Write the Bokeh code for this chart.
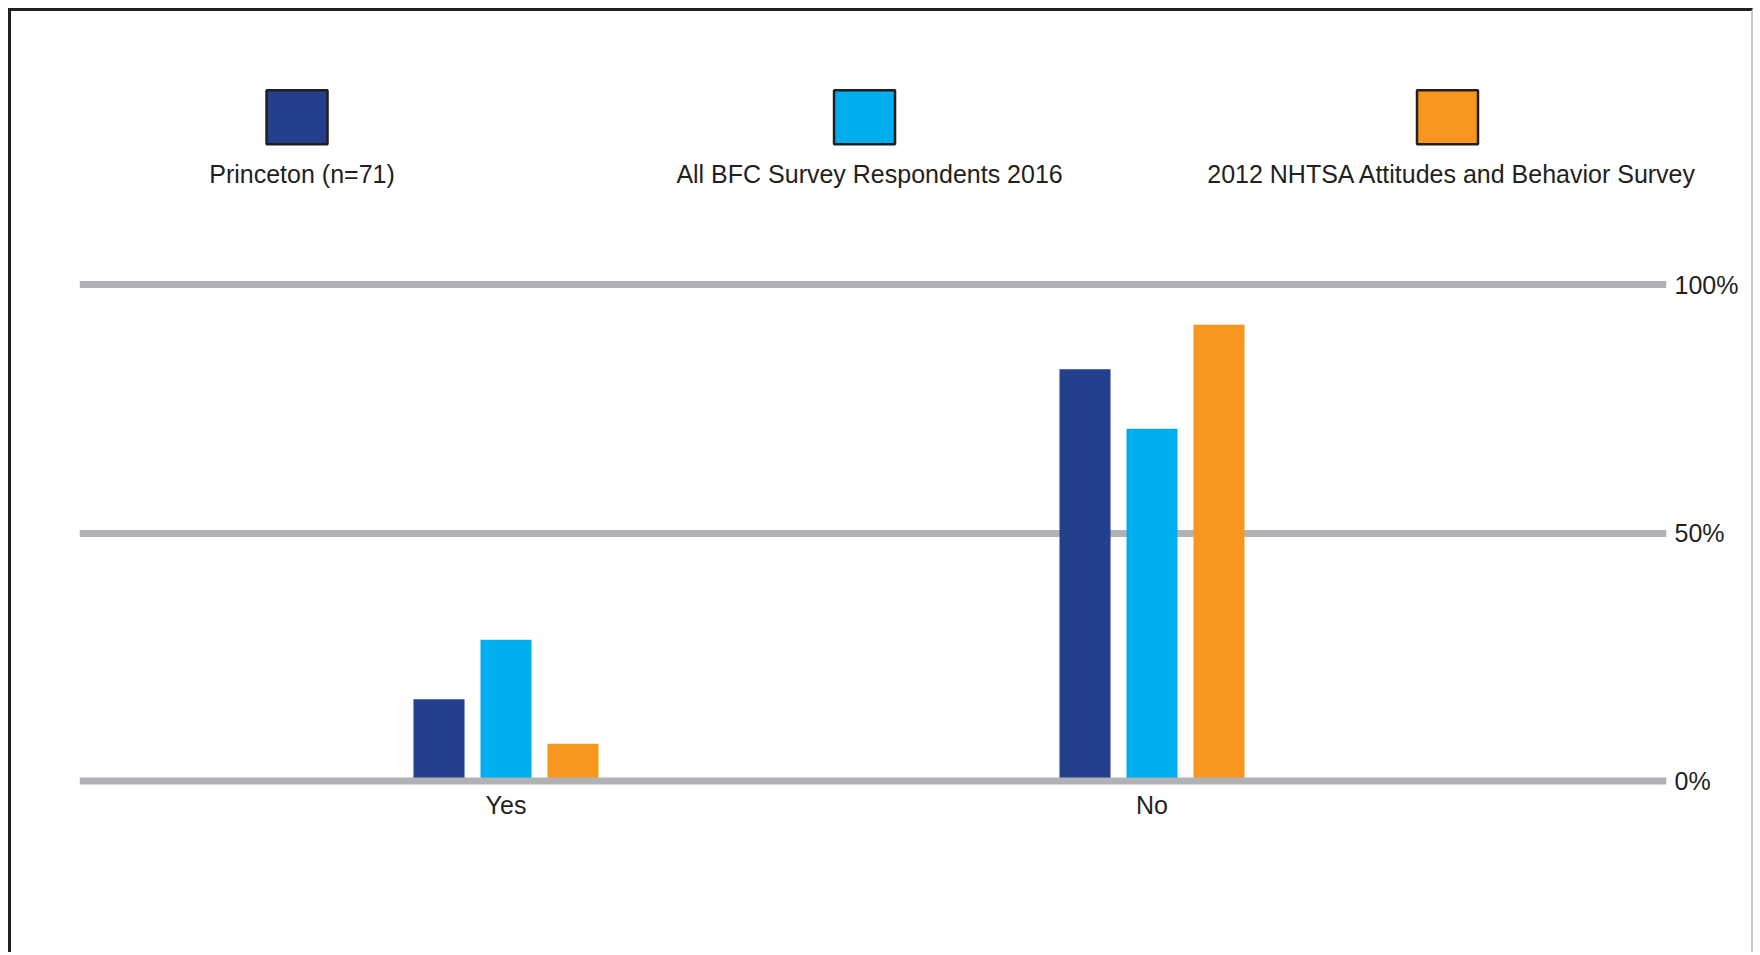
from bokeh.plotting import figure
from bokeh.models import Range1d, FixedTicker, LinearAxis, Span
from bokeh.core.properties import value
from bokeh.embed import file_html
from bokeh.resources import INLINE

# ---- data ----
categories = ["Yes", "No"]
series_names = ["Princeton (n=71)", "All BFC Survey Respondents 2016",
                "2012 NHTSA Attitudes and Behavior Survey"]
princeton = [16.5, 83.0]
bfc_all = [28.5, 71.0]
nhtsa = [7.5, 92.0]
y_ticks = [0, 50, 100]
y_tick_labels = ["0%", "50%", "100%"]

colors = ["#243F8C", "#00AEEF", "#F7971F"]
FONT = "Liberation Sans"
FS = "25px"
TXT = "#231F20"
GRID = "#B1B2B5"

p = figure(width=1745, height=944, output_backend="svg", toolbar_location=None,
           x_range=Range1d(-0.6602, 1.7964), y_range=Range1d(-1.5, 101.5),
           min_border_left=68, min_border_right=90, min_border_top=266,
           min_border_bottom=167)
p.styles = {"margin-left": "8px", "margin-top": "8px",
            "border-left": "3px solid #231F20", "border-top": "3px solid #231F20",
            "border-right": "2px solid #C8C8C8"}
p.outline_line_color = None
p.background_fill_color = "white"
p.border_fill_color = "white"
p.yaxis.visible = False
p.xaxis.visible = False
p.xgrid.visible = False

# gridlines at 50% and 100%
p.ygrid.ticker = FixedTicker(ticks=[50, 100])
p.ygrid.grid_line_color = GRID
p.ygrid.grid_line_width = 7

# bars
xs = list(range(len(categories)))
dodge = 0.1037
bw = 0.079
for i, (vals, col) in enumerate(zip([princeton, bfc_all, nhtsa], colors)):
    p.vbar(x=[x + (i - 1) * dodge for x in xs], top=vals, bottom=0, width=bw,
           fill_color=col, line_color=None)

# baseline on top of bars
p.add_layout(Span(location=0, dimension="width", line_color=GRID, line_width=7,
                  level="overlay"))

# x axis
xax = LinearAxis(ticker=FixedTicker(ticks=xs),
                 major_label_overrides={i: c for i, c in enumerate(categories)})
xax.axis_line_color = None
xax.major_tick_line_color = None
xax.minor_tick_line_color = None
xax.major_label_standoff = -4
xax.major_label_text_font = FONT
xax.major_label_text_font_size = FS
xax.major_label_text_color = TXT
p.add_layout(xax, "below")

# y axis on the right
yax = LinearAxis(ticker=FixedTicker(ticks=y_ticks),
                 major_label_overrides={t: l for t, l in zip(y_ticks, y_tick_labels)})
yax.axis_line_color = None
yax.major_tick_line_color = None
yax.minor_tick_line_color = None
yax.major_label_standoff = 2
yax.major_label_text_align = "center"
yax.major_label_text_font = FONT
yax.major_label_text_font_size = FS
yax.major_label_text_color = TXT
p.add_layout(yax, "right")

# legend (swatch above, label below)
leg_x = [-0.3235, 0.555, 1.4574]
sw = p.rect(x=leg_x, y=[133.8] * 3, width=61, height=54, width_units="screen",
            height_units="screen", fill_color=colors, line_color="#231F20",
            line_width=2.5)
sw.level = "overlay"
tx = p.text(x=leg_x, y=[122.3] * 3, text=series_names, x_offset=5,
            text_align="center", text_baseline="alphabetic",
            text_font=value(FONT), text_font_size=FS, text_color=TXT)
tx.level = "overlay"

open("out.html", "w").write(file_html(p, INLINE))
